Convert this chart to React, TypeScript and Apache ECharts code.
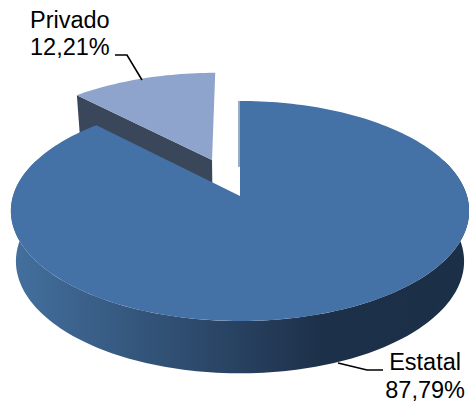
import React, { useEffect, useRef } from "react";
import * as echarts from "echarts";

const sliceNames = ["Estatal", "Privado"];
const sliceValues = [87.79, 12.21];

// Projection of the tilted pie onto the page
const APEX_X = 240;
const TOP_APEX_Y = 196;
const TOP_RX = 227;
const TOP_RY = 108;
const BOTTOM_APEX_Y = 246;
const BOTTOM_RX = 222;
const BOTTOM_RY = 110;
const PERSPECTIVE = 0.136;
const EXPLODE_X = 0.345;
const EXPLODE_Y = 0.377;

const TOP_COLORS = ["#4471a6", "#8fa4cc"];
const WALL_COLOR = "#3a4659";
const EDGE_COLOR = "#35598a";

const LABEL_LAYOUT = [
  { x: 461, y1: 350, y2: 378, align: "right", x2: 465, leader: [[338, 363], [367, 370], [383, 370]] },
  { x: 30, y1: 8, y2: 35, align: "left", x2: 30, leader: [[115, 55], [127, 55], [142, 80]] },
];

const project = (X: number, Y: number, level: "top" | "bottom") => {
  const s = 1 / (1 + PERSPECTIVE * Y);
  return level === "top"
    ? [APEX_X + TOP_RX * X * s, TOP_APEX_Y - TOP_RY * Y * s]
    : [APEX_X + BOTTOM_RX * X * s, BOTTOM_APEX_Y - BOTTOM_RY * Y * s];
};

const rim = (deg: number, off: number[], level: "top" | "bottom") => {
  const a = (deg * Math.PI) / 180;
  return project(off[0] + Math.sin(a), off[1] + Math.cos(a), level);
};

const arc = (from: number, to: number, off: number[], level: "top" | "bottom") => {
  const n = Math.max(2, Math.ceil(Math.abs(to - from) / 1.5));
  const pts: number[][] = [];
  for (let i = 0; i <= n; i++) pts.push(rim(from + ((to - from) * i) / n, off, level));
  return pts;
};

const total = sliceValues.reduce((a, b) => a + b, 0);

const renderItem = (params: any, api: any) => {
  const i = params.dataIndex;
  const value = api.value(0);
  let before = 0;
  for (let k = 0; k < i; k++) before += sliceValues[k];
  const start = (before / total) * 360;
  const end = start + (value / total) * 360;
  const mid = (start + end) / 2;
  const a = (mid * Math.PI) / 180;
  const off = i === 1 ? [Math.sin(a) * EXPLODE_X, Math.cos(a) * EXPLODE_Y] : [0, 0];
  const z = i === 1 ? 0 : 10;
  const apexTop = project(off[0], off[1], "top");
  const apexBottom = project(off[0], off[1], "bottom");
  const children: any[] = [];

  if (i === 0) {
    const side = [...arc(70, 290, off, "top"), ...arc(290, 70, off, "bottom")];
    children.push({
      type: "polygon",
      z2: z,
      shape: { points: side },
      style: {
        fill: new echarts.graphic.LinearGradient(0, 0, 1, 0, [
          { offset: 0, color: "#44709f" },
          { offset: 0.68, color: "#1d3049" },
          { offset: 1, color: "#1b2f47" },
        ]),
      },
    });
  } else {
    children.push({
      type: "polygon",
      z2: z,
      shape: { points: [apexTop, rim(start, off, "top"), rim(start, off, "bottom"), apexBottom] },
      style: { fill: WALL_COLOR },
    });
  }
  children.push({
    type: "polygon",
    z2: z + 1,
    shape: { points: [apexTop, ...arc(start, end, off, "top")] },
    style: { fill: TOP_COLORS[i] },
  });
  if (i === 0) {
    // The cut face seen edge-on, next to the gap
    const back = rim(start, off, "top");
    children.push({
      type: "line",
      z2: z + 2,
      shape: { x1: back[0] - 1, y1: back[1], x2: back[0] - 1, y2: back[1] + 66 },
      style: { stroke: EDGE_COLOR, lineWidth: 1 },
    });
  }

  const lay = LABEL_LAYOUT[i];
  children.push({
    type: "polyline",
    z2: 20,
    shape: { points: lay.leader },
    style: { stroke: "#000", lineWidth: 1.6, fill: "none" },
  });
  const font = { fontFamily: "Liberation Sans", fontSize: 23.5, fill: "#000" };
  children.push({
    type: "text",
    z2: 20,
    x: lay.x,
    y: lay.y1,
    style: { ...font, text: sliceNames[i], textAlign: lay.align },
  });
  children.push({
    type: "text",
    z2: 20,
    x: lay.x2,
    y: lay.y2,
    style: { ...font, text: value.toFixed(2).replace(".", ",") + "%", textAlign: lay.align },
  });
  return { type: "group", children };
};

export default function App() {
  const ref = useRef<HTMLDivElement>(null);
  useEffect(() => {
    const chart = echarts.init(ref.current!, undefined, { renderer: "svg" });
    chart.setOption({
      animation: false,
      backgroundColor: "#fff",
      series: [
        {
          type: "custom",
          coordinateSystem: "none",
          silent: true,
          data: sliceValues.map((v, i) => ({ name: sliceNames[i], value: [v] })),
          renderItem,
        },
      ],
    });
    return () => chart.dispose();
  }, []);
  return <div ref={ref} style={{ position: "fixed", left: 0, top: 0, width: 469, height: 405 }} />;
}
